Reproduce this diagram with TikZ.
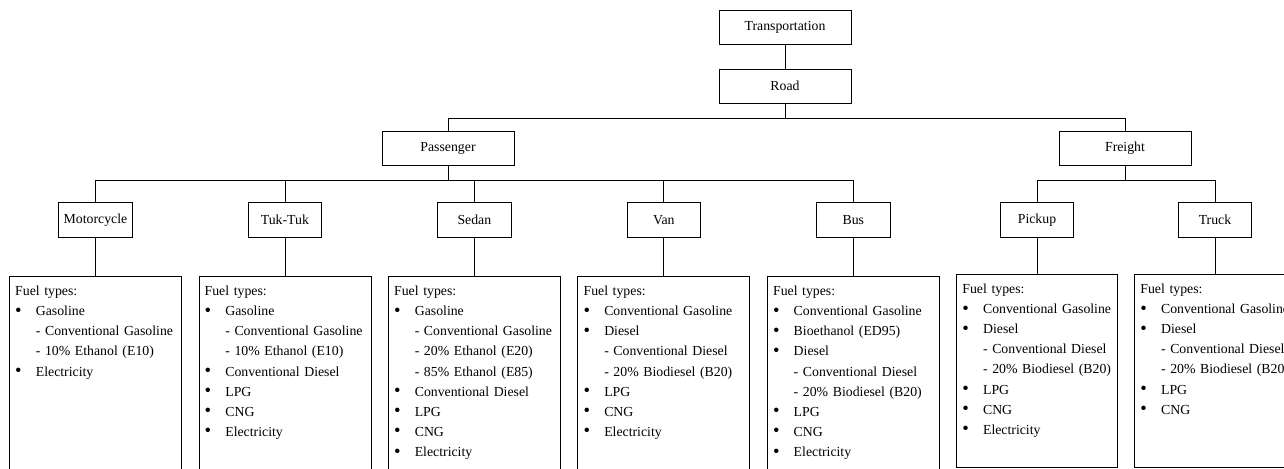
\documentclass[tikz,border=0pt]{standalone}
\usepackage{fontspec}
\usepackage{graphicx}
\setmainfont{Liberation Serif}
\usetikzlibrary{positioning}

\newcommand{\fuelitem}[1]{\mbox{\makebox[15.5pt][l]{\raisebox{-0.4pt}{\scalebox{1.35}{\textbullet}}}#1}}
\newcommand{\fuelsub}[1]{\mbox{\hspace*{15.5pt}- #1}}

\begin{document}
\begin{tikzpicture}[x=1pt,y=1pt,line width=0.6pt,
    font=\fontsize{10.35}{15.1}\selectfont,
    topbox/.style={draw,rectangle,minimum width=99pt,minimum height=25.5pt,inner sep=2pt},
    vehbox/.style={draw,rectangle,minimum width=55.1pt,minimum height=26pt,inner sep=2pt},
    fuelbox/.style={draw,rectangle,align=left,inner xsep=4.3pt,inner ysep=4pt,
        text width=120.4pt,text height=10pt,text depth=126.75pt},
    freightfuel/.style={fuelbox,text width=111.9pt},
    fork/.style={to path={-- ++(0,-11.25) -| (\tikztotarget)}},
    node distance=142.1pt]
            \useasboundingbox (0,0) rectangle (963,351);

            \node[topbox] (transport) at (588.75,330.1) {Transportation};
            \node[topbox] (road) [below of=transport, node distance=43.8pt] {Road};
            \node[topbox] (passenger) at (336,239.8) {Passenger};
            \node[topbox] (freight) at (843.75,239.8) {Freight};

            \node[vehbox] (moto) at (71.6,186) {Motorcycle};
            \node[vehbox] (tuktuk) [right of=moto] {Tuk-Tuk};
            \node[vehbox] (sedan) [right of=tuktuk] {Sedan};
            \node[vehbox] (van) [right of=sedan] {Van};
            \node[vehbox] (bus) [right of=van] {Bus};
            \node[vehbox] (pickup) at (777.75,186) {Pickup};
            \node[vehbox] (truck) [right of=pickup, node distance=133.5pt] {Truck};

            \node[fuelbox, below=29pt of moto] (motofuel) {Fuel types:\\
                \fuelitem{Gasoline}\\
                \fuelsub{Conventional Gasoline}\\
                \fuelsub{10\% Ethanol (E10)}\\
                \fuelitem{Electricity}};
            \node[fuelbox, below=29pt of tuktuk] (tuktukfuel) {Fuel types:\\
                \fuelitem{Gasoline}\\
                \fuelsub{Conventional Gasoline}\\
                \fuelsub{10\% Ethanol (E10)}\\
                \fuelitem{Conventional Diesel}\\
                \fuelitem{LPG}\\
                \fuelitem{CNG}\\
                \fuelitem{Electricity}};
            \node[fuelbox, below=29pt of sedan] (sedanfuel) {Fuel types:\\
                \fuelitem{Gasoline}\\
                \fuelsub{Conventional Gasoline}\\
                \fuelsub{20\% Ethanol (E20)}\\
                \fuelsub{85\% Ethanol (E85)}\\
                \fuelitem{Conventional Diesel}\\
                \fuelitem{LPG}\\
                \fuelitem{CNG}\\
                \fuelitem{Electricity}};
            \node[fuelbox, below=29pt of van] (vanfuel) {Fuel types:\\
                \fuelitem{Conventional Gasoline}\\
                \fuelitem{Diesel}\\
                \fuelsub{Conventional Diesel}\\
                \fuelsub{20\% Biodiesel (B20)}\\
                \fuelitem{LPG}\\
                \fuelitem{CNG}\\
                \fuelitem{Electricity}};
            \node[fuelbox, below=29pt of bus] (busfuel) {Fuel types:\\
                \fuelitem{Conventional Gasoline}\\
                \fuelitem{Bioethanol (ED95)}\\
                \fuelitem{Diesel}\\
                \fuelsub{Conventional Diesel}\\
                \fuelsub{20\% Biodiesel (B20)}\\
                \fuelitem{LPG}\\
                \fuelitem{CNG}\\
                \fuelitem{Electricity}};
            \node[freightfuel, below=27.5pt of pickup] (pickupfuel) {Fuel types:\\
                \fuelitem{Conventional Gasoline}\\
                \fuelitem{Diesel}\\
                \fuelsub{Conventional Diesel}\\
                \fuelsub{20\% Biodiesel (B20)}\\
                \fuelitem{LPG}\\
                \fuelitem{CNG}\\
                \fuelitem{Electricity}};
            \node[freightfuel, below=27.5pt of truck] (truckfuel) {Fuel types:\\
                \fuelitem{Conventional Gasoline}\\
                \fuelitem{Diesel}\\
                \fuelsub{Conventional Diesel}\\
                \fuelsub{20\% Biodiesel (B20)}\\
                \fuelitem{LPG}\\
                \fuelitem{CNG}};

            \path[draw]
                (transport) edge (road)
                (road.south) edge [fork] (passenger.north)
                    edge [fork] (freight.north)
                (passenger.south) edge [fork] (moto.north)
                    edge [fork] (tuktuk.north)
                    edge [fork] (sedan.north)
                    edge [fork] (van.north)
                    edge [fork] (bus.north)
                (freight.south) edge [fork] (pickup.north)
                    edge [fork] (truck.north)
                (moto) edge (motofuel)
                (tuktuk) edge (tuktukfuel)
                (sedan) edge (sedanfuel)
                (van) edge (vanfuel)
                (bus) edge (busfuel)
                (pickup) edge (pickupfuel)
                (truck) edge (truckfuel)
                ;
        \end{tikzpicture}
\end{document}
